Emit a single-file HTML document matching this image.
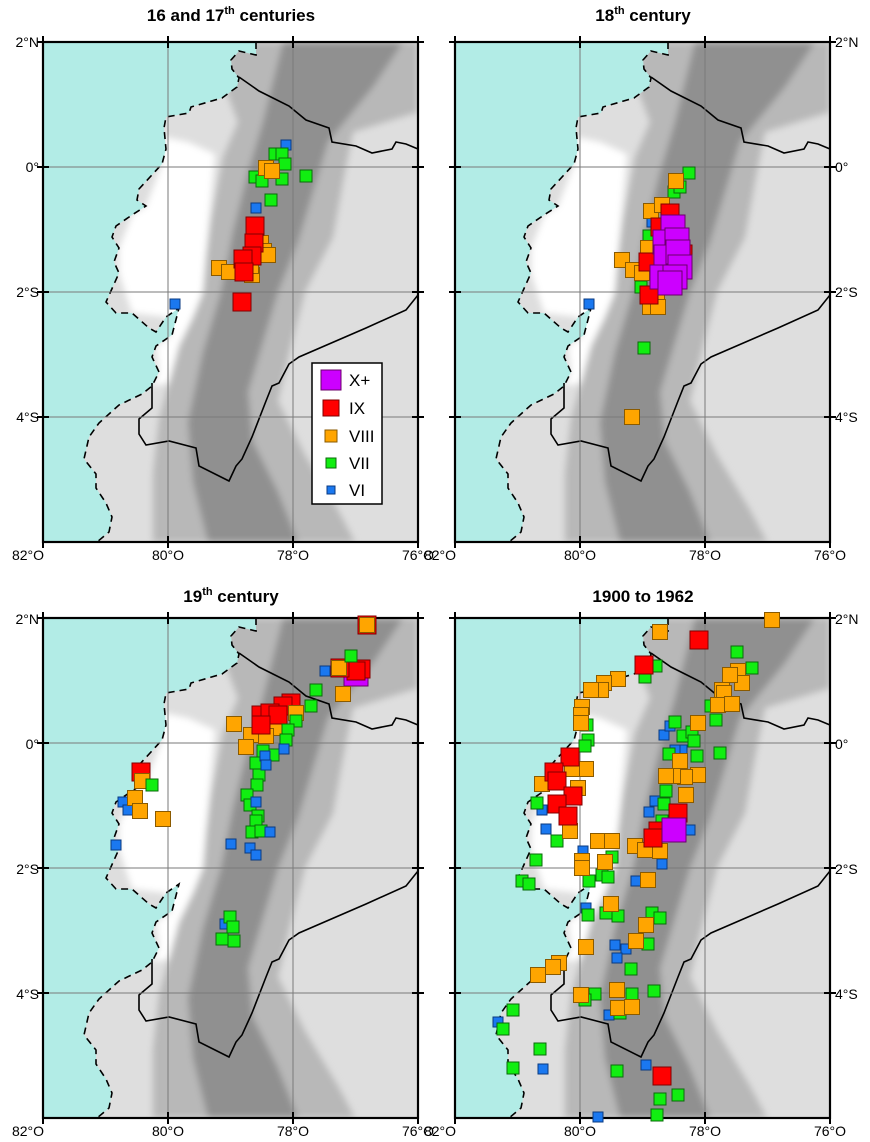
<!DOCTYPE html>
<html><head><meta charset="utf-8"><style>
body{margin:0;background:#fff;}
svg{display:block;font-family:"Liberation Sans",Arial,sans-serif;}
</style></head><body>
<svg width="870" height="1142" viewBox="0 0 870 1142" xmlns="http://www.w3.org/2000/svg">
<defs>
<clipPath id="cp"><rect x="0" y="0" width="375" height="500"/></clipPath>
<filter id="bl" x="-10%" y="-10%" width="120%" height="120%"><feGaussianBlur stdDeviation="3.5"/></filter>
<g id="bg">
 <g clip-path="url(#cp)">
  <rect x="0" y="0" width="375" height="500" fill="#dedede"/>
  <g filter="url(#bl)">
   <polygon fill="#ffffff" points="121,95 145,100 172,112 166,177 160,250 150,275 136,304 126,341 109,344 116,330 113,304 129,293 123,275 89,271 76,231 76,206 89,173 103,164 119,122"/>
   <polygon fill="#b8b8b8" points="190,0 375,0 375,70 310,90 300,140 290,195 262,250 248,304 235,359 262,413 295,468 312,500 110,500 110,432 116,377 126,341 136,304 150,275 160,250 163,213 168,177 180,115 195,80 180,40"/>
   <polygon fill="#909090" points="240,0 360,0 330,45 285,100 270,150 255,200 235,250 220,300 205,350 210,400 235,450 255,500 165,500 150,440 145,380 160,310 178,250 190,190 205,130 220,80"/>
  </g>
  <polygon fill="#b2ece6" points="0,0 213,0 213,13 196,9 188,18 189,27 196,36 194,45 179,56 148,65 146,71 123,75 121,86 123,107 119,122 96,147 94,158 103,164 89,173 73,184 69,195 76,206 71,220 76,231 63,260 73,271 89,271 106,286 113,290 123,275 136,266 129,293 113,304 109,315 116,330 109,344 99,352 76,363 56,381 46,395 41,417 53,432 53,446 63,461 69,475 66,490 54,500 0,500"/>
  <polyline fill="none" stroke="#000" stroke-width="1.6" stroke-dasharray="7,5" points="213,0 213,13 196,9 188,18 189,27 196,36 194,45 179,56 148,65 146,71 123,75 121,86 123,107 119,122 96,147 94,158 103,164 89,173 73,184 69,195 76,206 71,220 76,231 63,260 73,271 89,271 106,286 113,290 123,275 136,266 129,293 113,304 109,315 116,330 109,344 99,352 76,363 56,381 46,395 41,417 53,432 53,446 63,461 69,475 66,490 54,500"/>
  <polyline fill="none" stroke="#000" stroke-width="1.6" points="196,35 216,49 246,64 263,78 286,86 289,100 313,104 329,111 349,107 353,100 363,102 375,107"/>
  <polyline fill="none" stroke="#000" stroke-width="1.6" points="375,253 363,268 323,286 256,315 246,322 236,341 229,344 223,359 209,395 199,417 193,424 186,439 156,424 153,406 126,399 103,403 96,392 96,377 109,366 109,341"/>
  <g stroke="#7a7a7a" stroke-width="1">
   <line x1="125" y1="0" x2="125" y2="500"/><line x1="250" y1="0" x2="250" y2="500"/>
   <line x1="0" y1="125" x2="375" y2="125"/><line x1="0" y1="250" x2="375" y2="250"/><line x1="0" y1="375" x2="375" y2="375"/>
  </g>
 </g>
 <rect x="0" y="0" width="375" height="500" fill="none" stroke="#000" stroke-width="2.2"/>
 <g stroke="#000" stroke-width="2">
  <line x1="-6" y1="0" x2="6" y2="0"/><line x1="-6" y1="125" x2="6" y2="125"/><line x1="-6" y1="250" x2="6" y2="250"/><line x1="-6" y1="375" x2="6" y2="375"/>
  <line x1="369" y1="0" x2="381" y2="0"/><line x1="369" y1="125" x2="381" y2="125"/><line x1="369" y1="250" x2="381" y2="250"/><line x1="369" y1="375" x2="381" y2="375"/>
  <line x1="0" y1="494" x2="0" y2="506"/><line x1="125" y1="494" x2="125" y2="506"/><line x1="250" y1="494" x2="250" y2="506"/><line x1="375" y1="494" x2="375" y2="506"/>
  <line x1="0" y1="-6" x2="0" y2="6"/><line x1="125" y1="-6" x2="125" y2="6"/><line x1="250" y1="-6" x2="250" y2="6"/><line x1="375" y1="-6" x2="375" y2="6"/>
 </g>
 <g font-size="14" fill="#000" text-anchor="middle">
  <text x="-15" y="518">82°O</text><text x="125" y="518">80°O</text><text x="250" y="518">78°O</text><text x="375" y="518">76°O</text>
 </g>
</g>
<rect id="mx" x="-12" y="-12" width="24" height="24" fill="#cc00ff" stroke="#6a006a" stroke-width="1"/>
<rect id="m9" x="-9" y="-9" width="18" height="18" fill="#ff0000" stroke="#800000" stroke-width="1"/>
<rect id="m8" x="-7.5" y="-7.5" width="15" height="15" fill="#ffa500" stroke="#8a5a00" stroke-width="1"/>
<rect id="m7" x="-6" y="-6" width="12" height="12" fill="#11ee11" stroke="#0a6a0a" stroke-width="1"/>
<rect id="m6" x="-5" y="-5" width="10" height="10" fill="#1a78f0" stroke="#0a3a80" stroke-width="1"/>
</defs>

<g font-weight="bold" font-size="17" text-anchor="middle">
<text x="231" y="21">16 and 17<tspan font-size="11" dy="-7">th</tspan><tspan dy="7"> centuries</tspan></text>
<text x="643" y="21">18<tspan font-size="11" dy="-7">th</tspan><tspan dy="7"> century</tspan></text>
<text x="231" y="602">19<tspan font-size="11" dy="-7">th</tspan><tspan dy="7"> century</tspan></text>
<text x="643" y="602">1900 to 1962</text>
</g>

<g font-size="14" text-anchor="end">
<text x="39" y="47">2°N</text><text x="39" y="172">0°</text><text x="39" y="297">2°S</text><text x="39" y="422">4°S</text>
<text x="39" y="624">2°N</text><text x="39" y="749">0°</text><text x="39" y="874">2°S</text><text x="39" y="999">4°S</text>
</g>
<g font-size="14" text-anchor="start">
<text x="835" y="47">2°N</text><text x="835" y="172">0°</text><text x="835" y="297">2°S</text><text x="835" y="422">4°S</text>
<text x="835" y="624">2°N</text><text x="835" y="749">0°</text><text x="835" y="874">2°S</text><text x="835" y="999">4°S</text>
</g>

<g transform="translate(43,42)">
<use href="#bg"/>
<use href="#m6" x="243" y="103"/><use href="#m6" x="213" y="166"/><use href="#m6" x="132" y="262"/>
<use href="#m7" x="232" y="112"/><use href="#m7" x="239" y="112"/><use href="#m7" x="242" y="122"/><use href="#m7" x="239" y="137"/><use href="#m7" x="263" y="134"/><use href="#m7" x="212" y="135"/><use href="#m7" x="219" y="139"/><use href="#m7" x="228" y="158"/>
<use href="#m8" x="223" y="126"/><use href="#m8" x="229" y="129"/><use href="#m8" x="213" y="199"/><use href="#m8" x="218" y="201"/><use href="#m8" x="221" y="209"/><use href="#m8" x="225" y="213"/><use href="#m8" x="176" y="226"/><use href="#m8" x="186" y="230"/><use href="#m8" x="209" y="233"/><use href="#m8" x="208" y="224"/>
<use href="#m9" x="212" y="184"/><use href="#m9" x="211" y="201"/><use href="#m9" x="209" y="214"/><use href="#m9" x="200" y="217"/><use href="#m9" x="201" y="230"/><use href="#m9" x="199" y="260"/>
<rect x="269" y="321" width="70" height="141" fill="#fff" stroke="#000" stroke-width="1.5"/>
<rect x="278" y="328" width="20" height="20" fill="#cc00ff" stroke="#6a006a"/>
<rect x="280" y="358" width="16" height="16" fill="#ff0000" stroke="#800000"/>
<rect x="282" y="388" width="12" height="12" fill="#ffa500" stroke="#8a5a00"/>
<rect x="283" y="416" width="10" height="10" fill="#11ee11" stroke="#0a6a0a"/>
<rect x="284" y="444" width="8" height="8" fill="#1a78f0" stroke="#0a3a80"/>
<g font-size="17"><text x="306" y="344">X+</text><text x="306" y="372">IX</text><text x="306" y="400">VIII</text><text x="306" y="427">VII</text><text x="306" y="454">VI</text></g>
</g>

<g transform="translate(455,42)">
<use href="#bg"/>
<use href="#m6" x="134" y="262"/><use href="#m6" x="197" y="180"/>
<use href="#m7" x="234" y="131"/><use href="#m7" x="219" y="150"/><use href="#m7" x="225" y="145"/><use href="#m7" x="194" y="194"/><use href="#m7" x="186" y="245"/><use href="#m7" x="189" y="306"/>
<use href="#m8" x="221" y="139"/><use href="#m8" x="196" y="169"/><use href="#m8" x="207" y="163"/><use href="#m8" x="193" y="206"/><use href="#m8" x="167" y="218"/><use href="#m8" x="178" y="228"/><use href="#m8" x="187" y="231"/><use href="#m8" x="202" y="258"/><use href="#m8" x="195" y="265"/><use href="#m8" x="203" y="265"/><use href="#m8" x="177" y="375"/>
<use href="#m9" x="215" y="171"/><use href="#m9" x="205" y="185"/><use href="#m9" x="193" y="220"/><use href="#m9" x="194" y="253"/><use href="#m9" x="228" y="212"/>
<use href="#mx" x="218" y="185"/><use href="#mx" x="210" y="200"/><use href="#mx" x="222" y="198"/><use href="#mx" x="211" y="215"/><use href="#mx" x="223" y="210"/><use href="#mx" x="225" y="225"/><use href="#mx" x="207" y="235"/><use href="#mx" x="220" y="235"/><use href="#mx" x="215" y="241"/>
</g>

<g transform="translate(43,618)">
<use href="#bg"/>
<use href="#mx" x="313" y="56"/>
<use href="#m6" x="282" y="53"/><use href="#m6" x="73" y="227"/><use href="#m6" x="80" y="184"/><use href="#m6" x="85" y="192"/><use href="#m6" x="188" y="226"/><use href="#m6" x="207" y="230"/><use href="#m6" x="213" y="237"/><use href="#m6" x="182" y="306"/>
<use href="#m9" x="98" y="154"/><use href="#m9" x="324" y="7"/><use href="#m9" x="318" y="51"/><use href="#m9" x="313" y="53"/><use href="#m9" x="297" y="50"/><use href="#m9" x="248" y="85"/><use href="#m9" x="240" y="88"/>
<use href="#m8" x="324" y="7"/><use href="#m8" x="296" y="50"/><use href="#m8" x="300" y="76"/><use href="#m8" x="191" y="106"/><use href="#m8" x="253" y="95"/><use href="#m8" x="233" y="110"/><use href="#m8" x="223" y="118"/><use href="#m8" x="208" y="117"/><use href="#m8" x="203" y="129"/><use href="#m8" x="99" y="163"/><use href="#m8" x="92" y="180"/><use href="#m8" x="97" y="193"/><use href="#m8" x="120" y="201"/>
<use href="#m9" x="218" y="97"/><use href="#m9" x="227" y="95"/><use href="#m9" x="235" y="97"/><use href="#m9" x="218" y="107"/>
<use href="#m7" x="308" y="38"/><use href="#m7" x="273" y="72"/><use href="#m7" x="268" y="88"/><use href="#m7" x="253" y="103"/><use href="#m7" x="245" y="112"/><use href="#m7" x="243" y="122"/><use href="#m7" x="230" y="137"/><use href="#m7" x="220" y="133"/><use href="#m7" x="213" y="145"/><use href="#m7" x="216" y="157"/><use href="#m7" x="214" y="167"/><use href="#m7" x="204" y="177"/><use href="#m7" x="207" y="187"/><use href="#m7" x="215" y="198"/><use href="#m7" x="213" y="203"/><use href="#m7" x="209" y="214"/><use href="#m7" x="218" y="213"/><use href="#m7" x="109" y="167"/><use href="#m7" x="187" y="299"/><use href="#m7" x="190" y="309"/><use href="#m7" x="191" y="323"/><use href="#m7" x="179" y="321"/>
<use href="#m6" x="241" y="131"/><use href="#m6" x="222" y="138"/><use href="#m6" x="223" y="147"/><use href="#m6" x="213" y="184"/><use href="#m6" x="227" y="214"/>
</g>

<g transform="translate(455,618)">
<use href="#bg"/>
<use href="#m6" x="209" y="117"/><use href="#m6" x="215" y="108"/><use href="#m6" x="227" y="132"/><use href="#m6" x="220" y="132"/><use href="#m6" x="200" y="183"/><use href="#m6" x="194" y="194"/><use href="#m6" x="235" y="212"/><use href="#m6" x="91" y="211"/><use href="#m6" x="87" y="192"/><use href="#m6" x="128" y="233"/><use href="#m6" x="207" y="246"/>
<use href="#m6" x="181" y="263"/><use href="#m6" x="131" y="290"/><use href="#m6" x="160" y="327"/><use href="#m6" x="171" y="331"/><use href="#m6" x="162" y="340"/><use href="#m6" x="154" y="397"/><use href="#m6" x="43" y="404"/><use href="#m6" x="88" y="451"/><use href="#m6" x="191" y="447"/><use href="#m6" x="143" y="499"/>
<use href="#m7" x="282" y="34"/><use href="#m7" x="297" y="50"/><use href="#m7" x="201" y="48"/><use href="#m7" x="190" y="59"/><use href="#m7" x="256" y="88"/><use href="#m7" x="261" y="102"/><use href="#m7" x="220" y="104"/><use href="#m7" x="228" y="118"/><use href="#m7" x="237" y="114"/><use href="#m7" x="239" y="123"/><use href="#m7" x="242" y="138"/><use href="#m7" x="265" y="135"/><use href="#m7" x="214" y="136"/><use href="#m7" x="211" y="173"/><use href="#m7" x="209" y="186"/><use href="#m7" x="207" y="203"/><use href="#m7" x="133" y="122"/><use href="#m7" x="130" y="128"/><use href="#m7" x="132" y="107"/><use href="#m7" x="82" y="185"/><use href="#m7" x="102" y="223"/><use href="#m7" x="81" y="242"/><use href="#m7" x="157" y="239"/>
<use href="#m7" x="67" y="263"/><use href="#m7" x="74" y="266"/><use href="#m7" x="134" y="263"/><use href="#m7" x="147" y="257"/><use href="#m7" x="153" y="259"/><use href="#m7" x="133" y="297"/><use href="#m7" x="151" y="295"/><use href="#m7" x="163" y="298"/><use href="#m7" x="197" y="295"/><use href="#m7" x="205" y="300"/><use href="#m7" x="193" y="326"/><use href="#m7" x="176" y="351"/><use href="#m7" x="140" y="376"/><use href="#m7" x="177" y="376"/><use href="#m7" x="199" y="373"/><use href="#m7" x="58" y="392"/><use href="#m7" x="48" y="411"/><use href="#m7" x="85" y="431"/><use href="#m7" x="58" y="450"/><use href="#m7" x="162" y="453"/><use href="#m7" x="205" y="481"/><use href="#m7" x="223" y="477"/><use href="#m7" x="202" y="497"/><use href="#m7" x="130" y="382"/><use href="#m7" x="165" y="395"/>
<use href="#m8" x="205" y="14"/><use href="#m8" x="317" y="2"/><use href="#m8" x="163" y="61"/><use href="#m8" x="149" y="65"/><use href="#m8" x="146" y="72"/><use href="#m8" x="136" y="72"/><use href="#m8" x="127" y="89"/><use href="#m8" x="126" y="97"/><use href="#m8" x="126" y="105"/><use href="#m8" x="283" y="53"/><use href="#m8" x="287" y="65"/><use href="#m8" x="275" y="57"/><use href="#m8" x="267" y="72"/><use href="#m8" x="269" y="75"/><use href="#m8" x="263" y="87"/><use href="#m8" x="277" y="86"/><use href="#m8" x="243" y="105"/><use href="#m8" x="225" y="143"/><use href="#m8" x="243" y="157"/><use href="#m8" x="230" y="159"/><use href="#m8" x="218" y="158"/><use href="#m8" x="211" y="158"/><use href="#m8" x="231" y="177"/><use href="#m8" x="131" y="151"/><use href="#m8" x="117" y="151"/><use href="#m8" x="87" y="166"/><use href="#m8" x="123" y="170"/><use href="#m8" x="115" y="213"/><use href="#m8" x="143" y="223"/><use href="#m8" x="157" y="223"/><use href="#m8" x="180" y="228"/><use href="#m8" x="190" y="232"/><use href="#m8" x="205" y="233"/><use href="#m8" x="127" y="243"/><use href="#m8" x="150" y="244"/>
<use href="#m8" x="193" y="262"/><use href="#m8" x="156" y="286"/><use href="#m8" x="191" y="307"/><use href="#m8" x="181" y="323"/><use href="#m8" x="131" y="329"/><use href="#m8" x="104" y="345"/><use href="#m8" x="98" y="349"/><use href="#m8" x="83" y="357"/><use href="#m8" x="126" y="377"/><use href="#m8" x="162" y="372"/><use href="#m8" x="163" y="390"/><use href="#m8" x="177" y="389"/><use href="#m8" x="127" y="250"/>
<use href="#m9" x="244" y="22"/><use href="#m9" x="189" y="47"/><use href="#m9" x="115" y="139"/><use href="#m9" x="99" y="154"/><use href="#m9" x="102" y="163"/><use href="#m9" x="118" y="178"/><use href="#m9" x="102" y="186"/><use href="#m9" x="113" y="198"/><use href="#m9" x="223" y="195"/><use href="#m9" x="203" y="213"/><use href="#m9" x="198" y="220"/><use href="#m9" x="207" y="458"/>
<use href="#mx" x="219" y="212"/>
</g>
</svg>
</body></html>
